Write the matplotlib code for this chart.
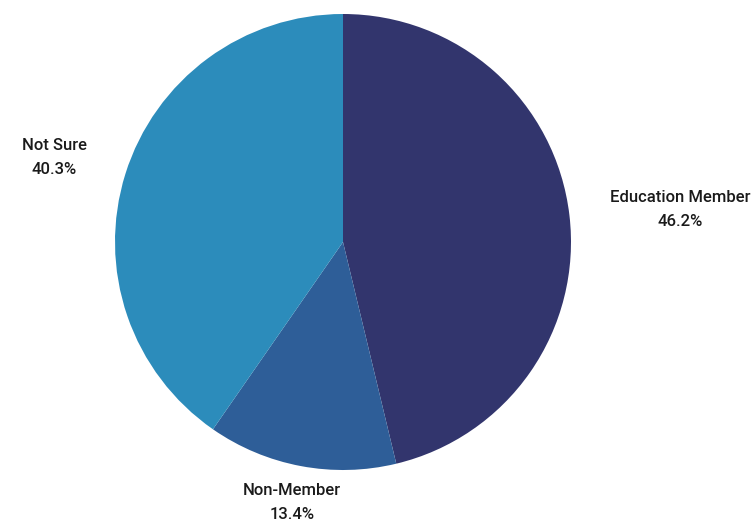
import numpy as np
import matplotlib.pyplot as plt

labels = ['Education Member', 'Non-Member', 'Not Sure']
shares = [46.2, 13.4, 40.3]
colors = ['#32356D', '#2E5E98', '#2C8CBB']
label_dist = [1.485, 1.166, 1.318]
label_shift = [-1.3, -0.4, 1.1]  # small angular nudges (degrees)

fig = plt.figure(figsize=(7.54, 5.22), dpi=100)
ax = fig.add_axes([0, 0, 1, 1])

r = 228
cx, cy = 343, 242
W, H = 754, 522

wedges, _ = ax.pie(shares, colors=colors, startangle=90, counterclock=False,
                   radius=1, wedgeprops=dict(linewidth=0))
ax.set_aspect('auto')
ax.set_xlim(-cx / r, (W - cx) / r)
ax.set_ylim(-(H - cy) / r, cy / r)

for w, lab, v, d, s in zip(wedges, labels, shares, label_dist, label_shift):
    ang = np.deg2rad((w.theta1 + w.theta2) / 2 + s)
    ax.text(d * np.cos(ang), d * np.sin(ang), f'{lab}\n{v:.1f}%',
            ha='center', va='center', fontsize=12, family='Roboto',
            weight='medium', color='#1a1a1a', linespacing=1.75)

ax.axis('off')
fig.savefig('out.png', dpi=100)
